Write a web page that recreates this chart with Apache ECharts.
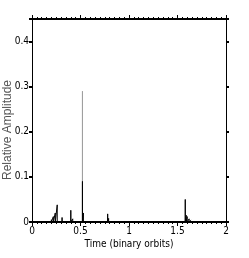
<!DOCTYPE html>
<html><head><meta charset="utf-8">
<script src="https://cdn.jsdelivr.net/npm/echarts@6/dist/echarts.min.js"></script>
<style>html,body{margin:0;padding:0;background:#fff}#c{width:249px;height:258px}</style>
</head><body><div id="c"></div>
<script>
// Black spikes: time (binary orbits) and relative amplitude
var blackSpikeX = [0.20, 0.22, 0.24, 0.26, 0.31, 0.40, 0.42, 0.52, 0.53, 0.78, 0.79, 1.58, 1.59, 1.60, 1.62, 1.64];
var blackSpikeY = [0.005, 0.012, 0.020, 0.038, 0.010, 0.026, 0.007, 0.090, 0.020, 0.018, 0.008, 0.050, 0.015, 0.012, 0.007, 0.004];
// Grey spike
var greySpikeX = [0.52];
var greySpikeY = [0.29];
var xTicks = [0, 0.5, 1, 1.5, 2];
var yTicks = [0, 0.1, 0.2, 0.3, 0.4];

function spikes(xs, ys) {
  var d = [];
  for (var i = 0; i < xs.length; i++) {
    d.push([xs[i], 0], [xs[i], ys[i]], [xs[i], 0]);
  }
  return d;
}
var font = "'DejaVu Sans Condensed', 'Liberation Sans', sans-serif";
var chart = echarts.init(document.getElementById('c'));
chart.setOption({
  animation: false,
  grid: {left: 32, right: 23, top: 19, bottom: 36, containLabel: false, outerBoundsMode: 'none'},
  graphic: [{
    type: 'text', x: 8, y: 130, rotation: Math.PI / 2,
    style: {text: 'Relative Amplitude', fill: '#555', font: '12px "Liberation Sans", sans-serif',
      align: 'center', verticalAlign: 'middle'}
  }],
  xAxis: [{
    type: 'value', min: 0, max: 2, interval: 0.5, position: 'bottom',
    axisLine: {lineStyle: {color: '#000', width: 2}},
    axisTick: {inside: false, length: 4, lineStyle: {color: '#000'}},
    minorTick: {show: true, splitNumber: 10, length: 2, lineStyle: {color: '#000'}},
    splitLine: {show: false},
    axisLabel: {color: '#000', fontFamily: font, fontSize: 10, margin: 4,
      formatter: function (v) { return xTicks.indexOf(v) >= 0 ? String(v) : ''; }},
    name: 'Time (binary orbits)', nameLocation: 'middle', nameGap: 17, nameMoveOverlap: false,
    nameTextStyle: {color: '#000', fontFamily: font, fontSize: 10}
  }, {
    type: 'value', min: 0, max: 2, interval: 0.5, position: 'top',
    axisLine: {onZero: false, lineStyle: {color: '#000', width: 2}},
    axisTick: {inside: false, length: 4, lineStyle: {color: '#000'}},
    minorTick: {show: true, splitNumber: 10, length: 2, lineStyle: {color: '#000'}},
    splitLine: {show: false}, axisLabel: {show: false}
  }],
  yAxis: [{
    type: 'value', min: 0, max: 0.45, interval: 0.1, position: 'left',
    axisLine: {show: true, lineStyle: {color: '#000', width: 1}},
    axisTick: {show: true, inside: false, length: 3, lineStyle: {color: '#000', width: 2}},
    splitLine: {show: false},
    axisLabel: {color: '#000', fontFamily: font, fontSize: 10, margin: 3,
      formatter: function (v) { var r = Math.round(v * 10) / 10; return (Math.abs(v - r) < 1e-9 && yTicks.indexOf(r) >= 0) ? (r === 0 ? '0' : r.toFixed(1)) : ''; }}
  }, {
    type: 'value', min: 0, max: 0.45, interval: 0.1, position: 'right',
    axisLine: {show: true, onZero: false, lineStyle: {color: '#000', width: 1}},
    axisTick: {show: true, inside: false, length: 3, lineStyle: {color: '#000', width: 2}},
    splitLine: {show: false}, axisLabel: {show: false}
  }],
  series: [{
    type: 'line', xAxisIndex: 0, yAxisIndex: 0, symbol: 'none',
    data: spikes(greySpikeX, greySpikeY),
    lineStyle: {color: '#a0a0a0', width: 1}
  }, {
    type: 'line', xAxisIndex: 0, yAxisIndex: 0, symbol: 'none',
    data: spikes(blackSpikeX, blackSpikeY),
    lineStyle: {color: '#000', width: 1}
  }]
});
</script></body></html>
